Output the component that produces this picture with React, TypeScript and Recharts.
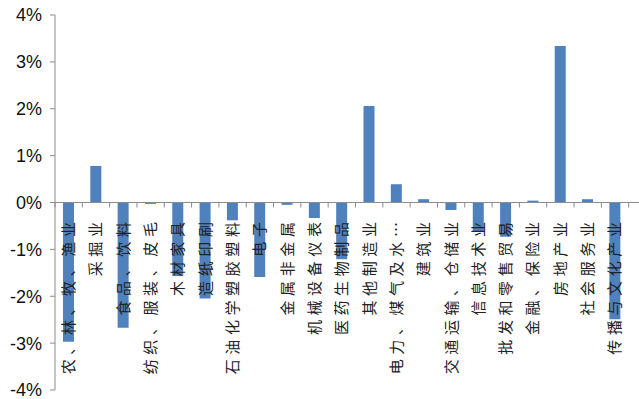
import { BarChart, Bar, XAxis, YAxis, ReferenceLine } from "recharts";

const industries = [
  "农、林、牧、渔业",
  "采掘业",
  "食品、饮料",
  "纺织、服装、皮毛",
  "木材家具",
  "造纸印刷",
  "石油化学塑胶塑料",
  "电子",
  "金属非金属",
  "机械设备仪表",
  "医药生物制品",
  "其他制造业",
  "电力、煤气及水…",
  "建筑业",
  "交通运输、仓储业",
  "信息技术业",
  "批发和零售贸易",
  "金融、保险业",
  "房地产业",
  "社会服务业",
  "传播与文化产业",
  "", // cut off at the right edge of the picture
];

// percent change
const changes: (number | null)[] = [
  -2.97, 0.78, -2.67, -0.03, -1.57, -2.05, -0.38, -1.59, -0.05, -0.33, -1.21,
  2.06, 0.39, 0.07, -0.16, -0.63, -0.73, 0.04, 3.34, 0.07, -2.49, null,
];

const yTicks = [-4, -3, -2, -1, 0, 1, 2, 3, 4];

const data = industries.map((name, i) => ({ name, value: changes[i] }));

const W = 680;
const H = 420;
const xAxisHeight = 30;
const margin = { top: 15, right: 24, bottom: 0, left: 0 };
const yAxisWidth = 55;
const plotH = H - margin.top - margin.bottom - xAxisHeight;
const plotW = W - margin.left - margin.right - yAxisWidth;
const zeroY = margin.top + plotH / 2;
const band = plotW / industries.length;
const axisGray = "#8c8c8c";

function IndustryTick(props: any) {
  const { x, payload } = props;
  const edge = x - band / 2;
  return (
    <g>
      <line x1={edge} x2={edge} y1={zeroY} y2={zeroY + 5} stroke={axisGray} />
      <text
        transform={`translate(${x},${zeroY + 15}) rotate(-90)`}
        textAnchor="end"
        dy="0.36em"
        fill="#222"
        fontSize={15}
        letterSpacing={4.6}
        fontFamily="'Noto Sans CJK SC', sans-serif"
      >
        {payload.value}
      </text>
    </g>
  );
}

export default function App() {
  return (
    <div
      style={{
        position: "absolute",
        left: 0,
        top: 0,
        width: 639,
        height: 399,
        overflow: "hidden",
        background: "#fff",
      }}
    >
      <BarChart width={W} height={H} data={data} margin={margin}>
        <YAxis
          domain={[-4, 4]}
          ticks={yTicks}
          width={yAxisWidth}
          tickFormatter={(v) => `${v}%`}
          axisLine={{ stroke: axisGray }}
          tickLine={{ stroke: axisGray }}
          tickSize={5}
          tickMargin={8}
          tick={{ fill: "#111", fontSize: 18, fontFamily: "'Liberation Sans', Arial" }}
        />
        <ReferenceLine y={0} stroke={axisGray} />
        <Bar dataKey="value" fill="#4F81BD" barSize={11} isAnimationActive={false} />
        <XAxis
          dataKey="name"
          height={xAxisHeight}
          axisLine={false}
          tickLine={false}
          interval={0}
          tick={<IndustryTick />}
        />
      </BarChart>
    </div>
  );
}
